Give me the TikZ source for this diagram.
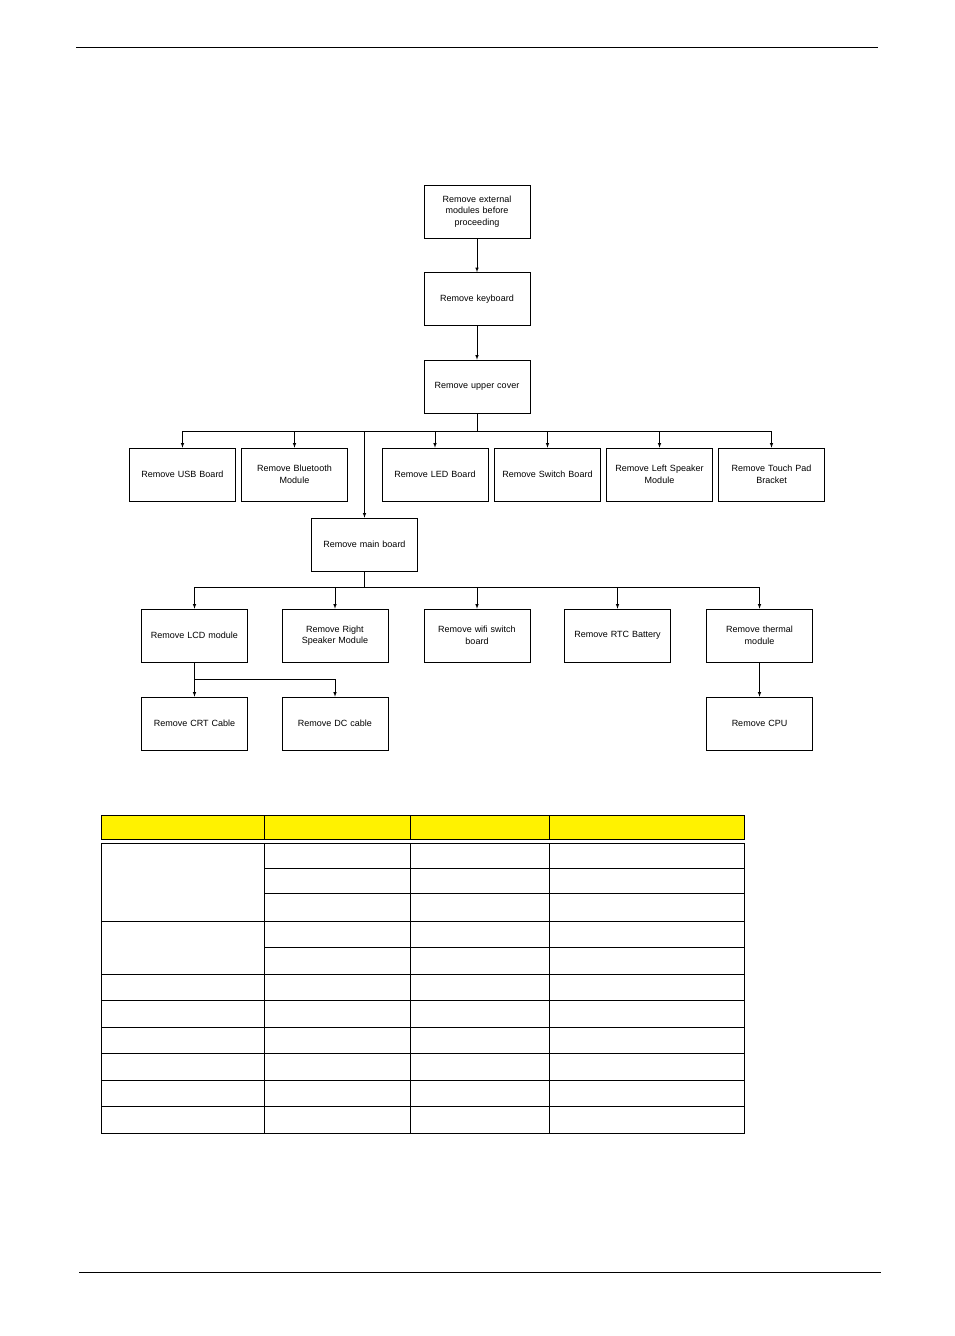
\documentclass[tikz,border=0pt]{standalone}
\usepackage{fontspec}
\setmainfont{Liberation Sans}
\begin{document}
\begin{tikzpicture}[x=1pt,y=-1pt,
  bx/.style={draw,line width=0.6pt,minimum width=106pt,minimum height=53pt,align=center,font=\fontsize{9}{11.5}\selectfont,inner sep=1pt,text width=104pt},
  ln/.style={line width=0.6pt},
  ar/.style={ln,-latex}]
\useasboundingbox (0,0) rectangle (954,1336);
\draw[ln] (76,47)--(878,47);
\draw[ln] (79,1272)--(881,1272);
\node[bx] (a) at (477,211.5) {Remove external\\modules before\\proceeding};
\node[bx] (b) at (477,299) {Remove keyboard};
\node[bx] (c) at (477,386.5) {Remove upper cover};
\draw[ar] (a)--(b); \draw[ar] (b)--(c);
\node[bx] (usb) at (182.5,474.5) {Remove USB Board};
\node[bx] (bt) at (294.5,474.5) {Remove Bluetooth\\Module};
\node[bx] (led) at (435,474.5) {Remove LED Board};
\node[bx] (sw) at (547.5,474.5) {Remove Switch Board};
\node[bx] (ls) at (659.5,474.5) {Remove Left Speaker\\Module};
\node[bx] (tp) at (771.5,474.5) {Remove Touch Pad\\Bracket};
\node[bx] (mb) at (364.5,544.5) {Remove main board};
\coordinate (j1) at (477,431);
\draw[ln] (c)--(j1);
\draw[ln] (usb.north|-j1)--(tp.north|-j1);
\foreach \n in {usb,bt,led,sw,ls,tp} \draw[ar] (\n.north|-j1)--(\n.north);
\draw[ar] (mb.north|-j1)--(mb.north);
\node[bx] (lcd) at (194.5,635.5) {Remove LCD module};
\node[bx] (rs) at (335,635.5) {Remove Right\\Speaker Module};
\node[bx] (wf) at (477,635.5) {Remove wifi switch\\board};
\node[bx] (rtc) at (617.5,635.5) {Remove RTC Battery};
\node[bx] (th) at (759.5,635.5) {Remove thermal\\module};
\coordinate (j2) at (364.5,587);
\draw[ln] (mb)--(j2);
\draw[ln] (lcd.north|-j2)--(th.north|-j2);
\foreach \n in {lcd,rs,wf,rtc,th} \draw[ar] (\n.north|-j2)--(\n.north);
\node[bx] (crt) at (194.5,723.5) {Remove CRT Cable};
\node[bx] (dc) at (335,723.5) {Remove DC cable};
\node[bx] (cpu) at (759.5,723.5) {Remove CPU};
\coordinate (j3) at (194.5,679);
\draw[ar] (lcd)--(crt);
\draw[ln] (j3)--(dc.north|-j3);
\draw[ar] (dc.north|-j3)--(dc.north);
\draw[ar] (th)--(cpu);
% table
\draw[ln,fill=yellow] (101,815) rectangle (744,839);
\foreach \x in {264,410,549} \draw[ln] (\x,815)--(\x,839);
\draw[ln] (101,843) rectangle (744,1133);
\foreach \x in {264,410,549} \draw[ln] (\x,843)--(\x,1133);
\foreach \y in {868,893} \draw[ln] (264,\y)--(744,\y);
\draw[ln] (101,921)--(744,921);
\draw[ln] (264,947)--(744,947);
\foreach \y in {974,1000,1027,1053,1080,1106} \draw[ln] (101,\y)--(744,\y);
\end{tikzpicture}
\end{document}
